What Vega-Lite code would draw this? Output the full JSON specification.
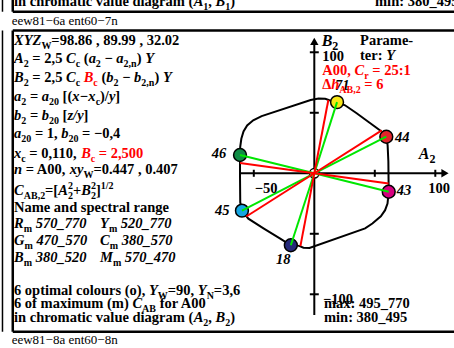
{
"$schema":"https://vega.github.io/schema/vega-lite/v6.json",
"width":454,"height":348,
"autosize":{"type":"none"},
"padding":0,
"background":"white",
"config":{"view":{"stroke":null}},
"datasets":{
"frame":[
{"A":-249.2,"B":118.0,"A2":115.45,"B2":118.0},
{"A":-249.2,"B":-130.9,"A2":115.45,"B2":-130.9},
{"A":-249.2,"B":118.0,"A2":-249.2,"B2":-130.9},
{"A":-249.2,"B":133.5,"A2":115.45,"B2":133.5},
{"A":-249.2,"B":133.5,"A2":-249.2,"B2":143.2}
],
"thin":[
{"A":-257.7,"B":143.2,"A2":-257.7,"B2":133.5},
{"A":-257.7,"B":118.0,"A2":-257.7,"B2":-130.9}
],
"axes":[
{"A":-61.8,"B":0,"A2":108,"B2":0},
{"A":0,"B":-117.1,"A2":0,"B2":109},
{"A":-50,"B":-2.9,"A2":-50,"B2":2.9},
{"A":50,"B":-2.9,"A2":50,"B2":2.9},
{"A":100,"B":-2.9,"A2":100,"B2":2.9},
{"A":-3.7,"B":100,"A2":3.7,"B2":100},
{"A":-3.7,"B":50,"A2":3.7,"B2":50},
{"A":-3.7,"B":-50,"A2":3.7,"B2":-50},
{"A":-3.7,"B":-100,"A2":3.7,"B2":-100}
],
"arrows":[{"A":108,"B":0,"dir":"right"},{"A":0,"B":109.1,"dir":"up"}],
"curve":[
{"i":1,"A":-61.4,"B":15.1},{"i":2,"A":-61.2,"B":22},{"i":3,"A":-60.3,"B":28.5},{"i":4,"A":-58.5,"B":34.5},
{"i":5,"A":-55.5,"B":39.5},{"i":6,"A":-50.5,"B":43.8},{"i":7,"A":-43.5,"B":47.2},{"i":8,"A":-3.0,"B":60.6},
{"i":9,"A":3.5,"B":61.8},{"i":10,"A":9.0,"B":61.5},{"i":11,"A":12.5,"B":60.4},{"i":12,"A":18.8,"B":58.8},
{"i":13,"A":25.4,"B":56.2},{"i":14,"A":35.0,"B":49.6},{"i":15,"A":46.0,"B":41.5},{"i":16,"A":55.0,"B":35.0},
{"i":17,"A":59.5,"B":30.2},{"i":18,"A":60.6,"B":23.0},{"i":19,"A":61.2,"B":10},{"i":20,"A":61.4,"B":-8.5},
{"i":21,"A":61.5,"B":-15.3},{"i":22,"A":60.5,"B":-25.0},{"i":23,"A":58.5,"B":-30.5},{"i":24,"A":55.0,"B":-35.5},
{"i":25,"A":48.0,"B":-41.5},{"i":26,"A":42.0,"B":-45.5},{"i":27,"A":-4.0,"B":-61.8},{"i":28,"A":-9.0,"B":-61.5},
{"i":29,"A":-12.5,"B":-60.0},{"i":30,"A":-19.4,"B":-59.5},{"i":31,"A":-28.5,"B":-53.8},{"i":32,"A":-42.0,"B":-45.5},
{"i":33,"A":-54.5,"B":-37.5},{"i":34,"A":-59.8,"B":-30.9},{"i":35,"A":-61.2,"B":-24},{"i":36,"A":-61.4,"B":-2.8},
{"i":37,"A":-61.4,"B":15.1}
],
"points":[
{"name":"71","A":18.8,"B":58.8},
{"name":"44","A":59.5,"B":30.2},
{"name":"43","A":61.5,"B":-15.3},
{"name":"18","A":-19.4,"B":-59.5},
{"name":"45","A":-59.8,"B":-30.9},
{"name":"46","A":-61.4,"B":15.1}
],
"maxpts":[
{"name":"71","A":11.6,"B":60.6},
{"name":"44","A":55.7,"B":35.5},
{"name":"43","A":61.4,"B":-8.5},
{"name":"18","A":-11.5,"B":-60.2},
{"name":"45","A":-56.2,"B":-35.7},
{"name":"46","A":-61.4,"B":8.5}
],
"ptlabels":[
{"t":"71","A":17.1,"B":68.8},
{"t":"44","A":66.7,"B":26.1},
{"t":"43","A":68.1,"B":-17.9},
{"t":"18","A":-31.7,"B":-75.0},
{"t":"45","A":-82.1,"B":-34.5},
{"t":"46","A":-84.8,"B":12.4}
],
"t_bi":[
{"t":"XYZ","A":-248.2,"B":106.0},
{"t":"A","A":-248.2,"B":90.9},{"t":"C","A":-205.2,"B":90.9},{"t":"a","A":-186.5,"B":90.9},{"t":"a","A":-163.6,"B":90.9},{"t":"Y","A":-139.7,"B":90.9},
{"t":"B","A":-248.2,"B":75.2},{"t":"C","A":-205.2,"B":75.2},{"t":"b","A":-171.9,"B":75.2},{"t":"b","A":-149.0,"B":75.2},{"t":"Y","A":-125.1,"B":75.2},
{"t":"a","A":-248.2,"B":59.75},{"t":"a","A":-225.2,"B":59.75},{"t":"x−x","A":-200.0,"B":59.75},{"t":"y","A":-169.7,"B":59.75},
{"t":"b","A":-248.2,"B":44.05},{"t":"b","A":-225.2,"B":44.05},{"t":"z/y","A":-204.0,"B":44.05},
{"t":"a","A":-248.2,"B":28.9},{"t":"b","A":-209.1,"B":28.9},
{"t":"x","A":-248.2,"B":12.9},
{"t":"n","A":-248.2,"B":-0.58},{"t":"xy","A":-202.1,"B":-0.58},
{"t":"C","A":-248.2,"B":-17.93},{"t":"A","A":-211.6,"B":-17.93},{"t":"B","A":-192.6,"B":-17.93},
{"t":"R","A":-248.2,"B":-45.45},{"t":"570_770","A":-230.3,"B":-45.45},{"t":"Y","A":-177.1,"B":-45.45},{"t":"520_770","A":-159.9,"B":-45.45},
{"t":"G","A":-248.2,"B":-59.25},{"t":"470_570","A":-229.6,"B":-59.25},{"t":"C","A":-177.1,"B":-59.25},{"t":"380_570","A":-159.2,"B":-59.25},
{"t":"B","A":-248.2,"B":-73.05},{"t":"380_520","A":-230.3,"B":-73.05},{"t":"M","A":-177.1,"B":-73.05},{"t":"570_470","A":-156.6,"B":-73.05},
{"t":"Y","A":-136.7,"B":-100.6},{"t":"Y","A":-96.3,"B":-100.6},
{"t":"C","A":-150.3,"B":-111.6},
{"t":"A","A":-99.7,"B":-122.6},{"t":"B","A":-81.6,"B":-122.6},
{"t":"A","A":-99.7,"B":138.3},{"t":"B","A":-81.6,"B":138.3},
{"t":"Y","A":59.4,"B":93.6}
],
"t_b":[
{"t":"=98.86 , 89.99 , 32.02","A":-217.3,"B":106.0},
{"t":"= 2,5","A":-233.0,"B":90.9},{"t":"(","A":-190.5,"B":90.9},{"t":"−","A":-173.4,"B":90.9},{"t":")","A":-146.8,"B":90.9},
{"t":"= 2,5","A":-233.0,"B":75.2},{"t":"(","A":-175.9,"B":75.2},{"t":"−","A":-158.8,"B":75.2},{"t":")","A":-132.1,"B":75.2},
{"t":"=","A":-235.0,"B":59.75},{"t":"[(","A":-208.0,"B":59.75},{"t":")/","A":-177.1,"B":59.75},{"t":"]","A":-164.5,"B":59.75},
{"t":"=","A":-235.0,"B":44.05},{"t":"[","A":-208.0,"B":44.05},{"t":"]","A":-190.7,"B":44.05},
{"t":"= 1,","A":-230.9,"B":28.9},{"t":"= −0,4","A":-191.9,"B":28.9},
{"t":"= 0,110,","A":-235.5,"B":12.9},
{"t":"= A00,","A":-238.5,"B":-0.58},{"t":"=0.447 , 0.407","A":-182.5,"B":-0.58},
{"t":"=[","A":-222.5,"B":-17.93},{"t":"+","A":-199.5,"B":-17.93},{"t":"]","A":-180.5,"B":-17.93},
{"t":"Name and spectral range","A":-248.2,"B":-31.7},
{"t":"6 optimal colours (o),","A":-248.2,"B":-100.6},{"t":"=90,","A":-121.1,"B":-100.6},{"t":"=3,6","A":-83.0,"B":-100.6},
{"t":"6 of maximum (m)","A":-248.2,"B":-111.6},{"t":"for A00","A":-127.8,"B":-111.6},
{"t":"in chromatic value diagram (","A":-248.2,"B":-122.6},{"t":",","A":-87.6,"B":-122.6},{"t":")","A":-69.4,"B":-122.6},
{"t":"in chromatic value diagram (","A":-248.2,"B":138.3},{"t":",","A":-87.6,"B":138.3},{"t":")","A":-69.4,"B":138.3},
{"t":"min: 380_495","A":50.2,"B":138.3},
{"t":"Parame-","A":37.8,"B":106.0},{"t":"ter:","A":37.8,"B":93.6},
{"t":"max: 495_770","A":8.0,"B":-111.6},{"t":"min: 380_495","A":8.0,"B":-122.6},
{"t":"100","A":6.6,"B":93.1},{"t":"−100","A":7.2,"B":-108.4}
],
"t_center":[
{"t":"−50","A":-39.9,"B":-16.0},{"t":"100","A":103.1,"B":-16.0}
],
"t_sub":[
{"t":"W","A":-225.5,"B":106.0},
{"t":"2","A":-240.1,"B":90.9},{"t":"c","A":-197.2,"B":90.9},{"t":"2","A":-180.6,"B":90.9},{"t":"2,n","A":-157.6,"B":90.9},
{"t":"2","A":-240.1,"B":75.2},{"t":"c","A":-197.2,"B":75.2},{"t":"2","A":-165.9,"B":75.2},{"t":"2,n","A":-143.0,"B":75.2},
{"t":"2","A":-242.2,"B":59.75},{"t":"20","A":-219.2,"B":59.75},{"t":"c","A":-180.7,"B":59.75},
{"t":"2","A":-242.2,"B":44.05},{"t":"20","A":-219.2,"B":44.05},
{"t":"20","A":-242.2,"B":28.9},{"t":"20","A":-203.1,"B":28.9},
{"t":"c","A":-242.2,"B":12.9},
{"t":"W","A":-190.7,"B":-0.58},
{"t":"AB,2","A":-240.1,"B":-17.93},{"t":"2","A":-203.6,"B":-17.93},{"t":"2","A":-184.6,"B":-17.93},
{"t":"m","A":-240.1,"B":-45.45},{"t":"m","A":-169.7,"B":-45.45},
{"t":"m","A":-239.5,"B":-59.25},{"t":"m","A":-169.1,"B":-59.25},
{"t":"m","A":-240.1,"B":-73.05},{"t":"m","A":-166.4,"B":-73.05},
{"t":"W","A":-129.3,"B":-100.6},{"t":"N","A":-88.9,"B":-100.6},
{"t":"AB","A":-142.3,"B":-111.6},
{"t":"2","A":-91.7,"B":-122.6},{"t":"2","A":-73.5,"B":-122.6},
{"t":"1","A":-91.7,"B":138.3},{"t":"1","A":-73.5,"B":138.3}
],
"t_sup":[
{"t":"2","A":-203.6,"B":-17.93},{"t":"2","A":-184.6,"B":-17.93},{"t":"1/2","A":-176.5,"B":-17.93}
],
"t_red":[
{"t":"= 2,500","A":-178.1,"B":12.9},
{"t":"A00,","A":6.6,"B":81.2},{"t":"= 25:1","A":47.9,"B":81.2},
{"t":"Δ","A":6.6,"B":69.4},{"t":"= 6","A":41.3,"B":69.4}
],
"t_red_bi":[
{"t":"B","A":-190.6,"B":75.2},{"t":"B","A":-192.7,"B":12.9},{"t":"C","A":33.2,"B":81.2},{"t":"h","A":14.0,"B":69.4}
],
"t_red_sub":[
{"t":"c","A":-182.6,"B":75.2},{"t":"c","A":-184.7,"B":12.9},{"t":"r","A":41.2,"B":81.2},{"t":"AB,2","A":20.7,"B":69.4}
],
"t_axis":[{"t":"A","A":86.3,"B":11.6},{"t":"B","A":6.1,"B":105.2}],
"t_axissub":[{"t":"2","A":95.1,"B":11.6},{"t":"2","A":14.9,"B":105.2}],
"t_code":[{"t":"eew81−6a ent60−7n","A":-250.1,"B":122.6},{"t":"eew81−8a ent60−8n","A":-250.1,"B":-141.3}]
},
"encoding":{
"x":{"field":"A","type":"quantitative","scale":{"domain":[-259.75,115.45],"nice":false,"zero":false},"axis":null},
"y":{"field":"B","type":"quantitative","scale":{"domain":[-144.4,143.2],"nice":false,"zero":false},"axis":null}
},
"layer":[
{"data":{"name":"frame"},"mark":{"type":"rule","color":"black","strokeWidth":2.5},"encoding":{"x2":{"field":"A2"},"y2":{"field":"B2"}}},
{"data":{"name":"thin"},"mark":{"type":"rule","color":"black","strokeWidth":1.5},"encoding":{"x2":{"field":"A2"},"y2":{"field":"B2"}}},
{"data":{"name":"axes"},"mark":{"type":"rule","color":"black","strokeWidth":2},"encoding":{"x2":{"field":"A2"},"y2":{"field":"B2"}}},
{"data":{"name":"arrows"},"mark":{"type":"point","filled":true,"color":"black","size":70,"opacity":1},"encoding":{"shape":{"field":"dir","type":"nominal","scale":{"domain":["right","up"],"range":["triangle-right","triangle-up"]},"legend":null}}},
{"data":{"name":"curve"},"mark":{"type":"line","color":"black","strokeWidth":2},"encoding":{"order":{"field":"i","type":"quantitative"}}},
{"data":{"name":"points"},"mark":{"type":"circle","size":165,"stroke":"black","strokeWidth":1.5,"opacity":1},"encoding":{"fill":{"field":"name","type":"nominal","scale":{"domain":["71","44","43","18","45","46"],"range":["#f7e617","#e3242b","#d6007f","#25297a","#16a6e3","#0f8c45"]},"legend":null}}},
{"data":{"values":[{"A":0,"B":0}]},"mark":{"type":"circle","size":90,"fill":"white","stroke":"black","strokeWidth":1.5,"opacity":1}},
{"data":{"name":"points"},"mark":{"type":"rule","color":"#00e600","strokeWidth":2},"encoding":{"x2":{"datum":0},"y2":{"datum":0}}},
{"data":{"name":"maxpts"},"mark":{"type":"rule","color":"#ff0000","strokeWidth":2},"encoding":{"x2":{"datum":0},"y2":{"datum":0}}},
{"data":{"name":"ptlabels"},"mark":{"type":"text","font":"Liberation Serif","fontSize":14.5,"fontWeight":"bold","fontStyle":"italic","align":"left","baseline":"alphabetic","color":"black"},"encoding":{"text":{"field":"t"}}},
{"data":{"name":"t_bi"},"mark":{"type":"text","font":"Liberation Serif","fontSize":14.5,"fontWeight":"bold","fontStyle":"italic","align":"left","baseline":"alphabetic","color":"black"},"encoding":{"text":{"field":"t"}}},
{"data":{"name":"t_b"},"mark":{"type":"text","font":"Liberation Serif","fontSize":14.5,"fontWeight":"bold","align":"left","baseline":"alphabetic","color":"black"},"encoding":{"text":{"field":"t"}}},
{"data":{"name":"t_center"},"mark":{"type":"text","font":"Liberation Serif","fontSize":14.5,"fontWeight":"bold","align":"center","baseline":"alphabetic","color":"black"},"encoding":{"text":{"field":"t"}}},
{"data":{"name":"t_sub"},"mark":{"type":"text","font":"Liberation Serif","fontSize":10,"fontWeight":"bold","align":"left","baseline":"alphabetic","dy":4,"color":"black"},"encoding":{"text":{"field":"t"}}},
{"data":{"name":"t_sup"},"mark":{"type":"text","font":"Liberation Serif","fontSize":10,"fontWeight":"bold","align":"left","baseline":"alphabetic","dy":-6,"color":"black"},"encoding":{"text":{"field":"t"}}},
{"data":{"name":"t_red"},"mark":{"type":"text","font":"Liberation Serif","fontSize":14.5,"fontWeight":"bold","align":"left","baseline":"alphabetic","color":"#ff0000"},"encoding":{"text":{"field":"t"}}},
{"data":{"name":"t_red_bi"},"mark":{"type":"text","font":"Liberation Serif","fontSize":14.5,"fontWeight":"bold","fontStyle":"italic","align":"left","baseline":"alphabetic","color":"#ff0000"},"encoding":{"text":{"field":"t"}}},
{"data":{"name":"t_red_sub"},"mark":{"type":"text","font":"Liberation Serif","fontSize":10,"fontWeight":"bold","align":"left","baseline":"alphabetic","dy":4,"color":"#ff0000"},"encoding":{"text":{"field":"t"}}},
{"data":{"name":"t_axis"},"mark":{"type":"text","font":"Liberation Serif","fontSize":16,"fontWeight":"bold","fontStyle":"italic","align":"left","baseline":"alphabetic","color":"black"},"encoding":{"text":{"field":"t"}}},
{"data":{"name":"t_axissub"},"mark":{"type":"text","font":"Liberation Serif","fontSize":12,"fontWeight":"bold","align":"left","baseline":"alphabetic","dy":4,"color":"black"},"encoding":{"text":{"field":"t"}}},
{"data":{"name":"t_code"},"mark":{"type":"text","font":"Liberation Serif","fontSize":13,"align":"left","baseline":"alphabetic","color":"black"},"encoding":{"text":{"field":"t"}}}
]
}
